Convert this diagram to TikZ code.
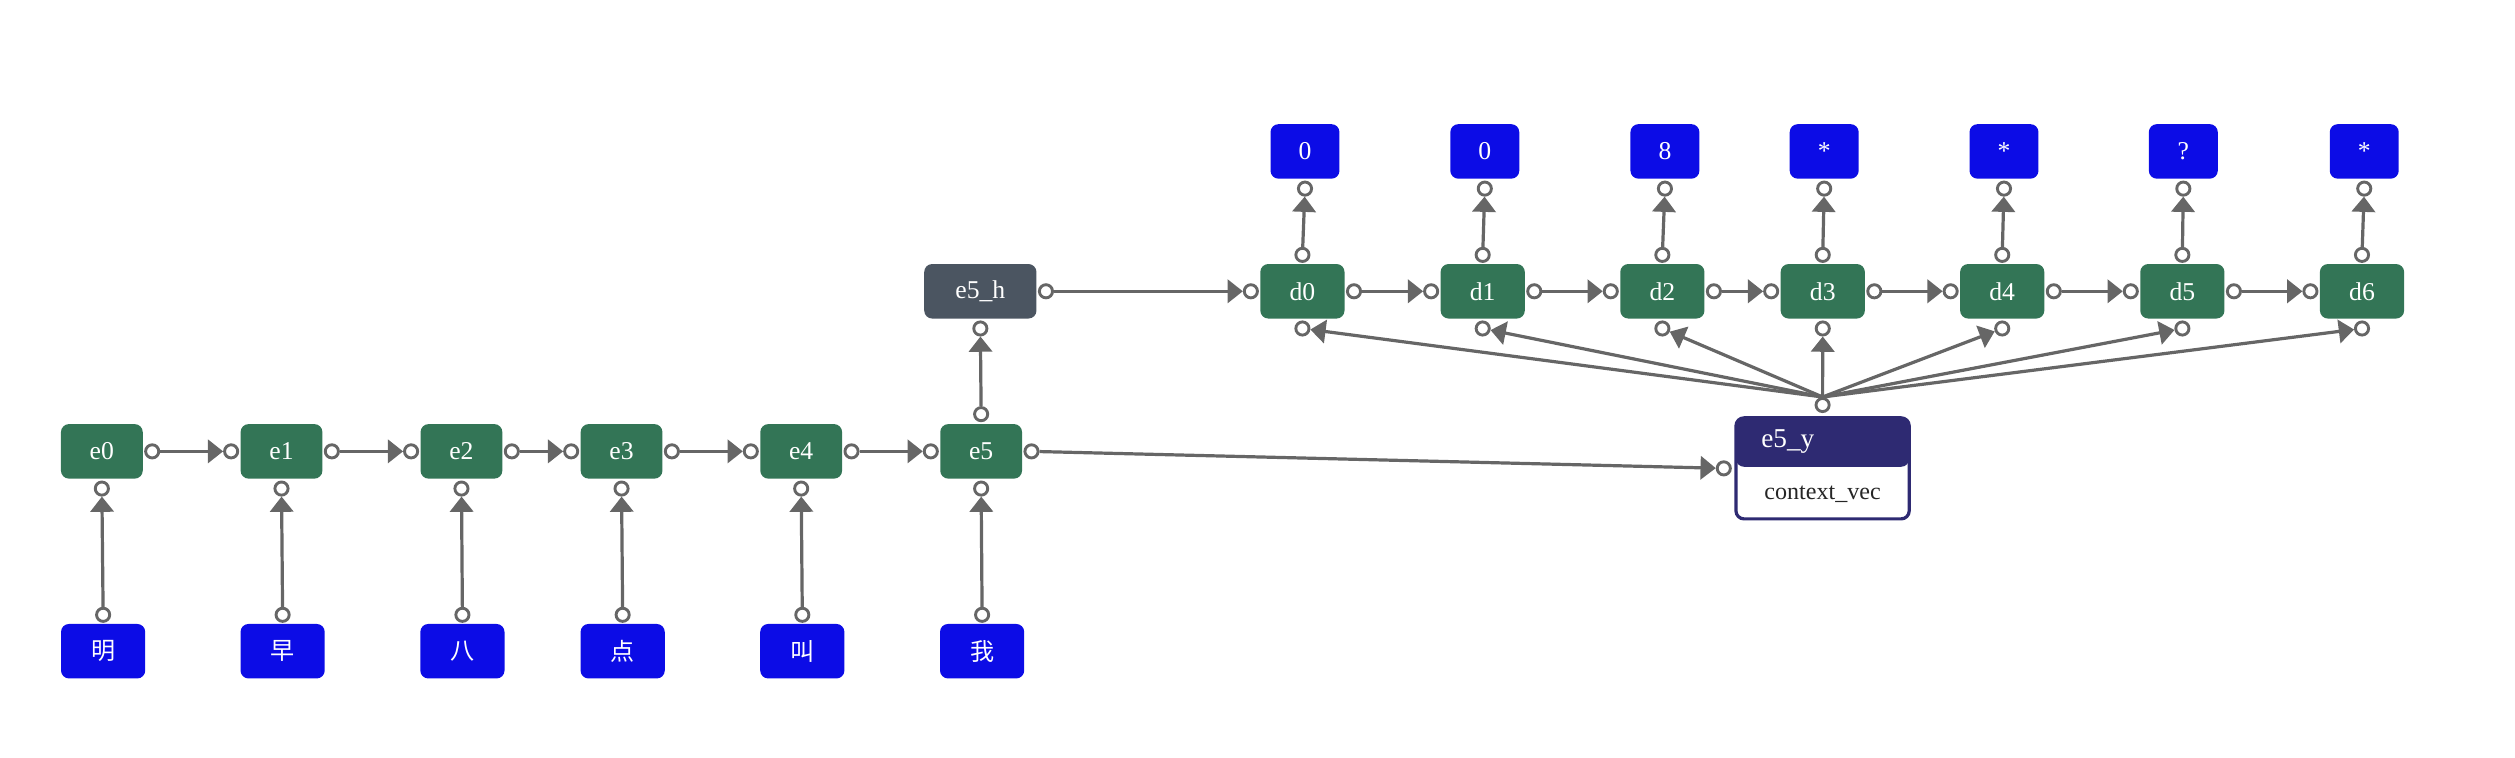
\documentclass[tikz,border=0pt]{standalone}
\usepackage{fontspec}
\setmainfont{Liberation Serif}
\newfontfamily\cjkfont{Noto Sans CJK SC}
\usetikzlibrary{arrows.meta}
\definecolor{encgreen}{HTML}{337556}
\definecolor{tokblue}{HTML}{0C0CE6}
\definecolor{slatebox}{HTML}{4B5561}
\definecolor{navybox}{HTML}{2E2A72}
\definecolor{conngray}{HTML}{666666}
\begin{document}
\begin{tikzpicture}[x=1pt,y=-1pt,
  basebox/.style={rounded corners=5pt, minimum height=34pt, inner sep=0pt, text=white, font=\fontsize{16}{19}\selectfont},
  encbox/.style={basebox, fill=encgreen, minimum width=51pt},
  decbox/.style={basebox, fill=encgreen, minimum width=52.5pt},
  tokbox/.style={basebox, fill=tokblue, minimum width=52.5pt, font=\cjkfont\fontsize{15}{18}\selectfont},
  outbox/.style={basebox, fill=tokblue, minimum width=43pt},
  hidbox/.style={basebox, fill=slatebox, minimum width=70pt},
  portc/.style={circle, draw=conngray, fill=white, line width=1.8pt, minimum size=8.2pt, inner sep=0pt},
  connx/.style={draw=conngray, line width=2pt, -{Triangle[length=9.5pt,width=14.5pt]}},
]
\useasboundingbox (0,0) rectangle (1568,472);

% encoder nodes
\foreach \x [count=\i from 0] in {63.5,175.5,287.7,387.5,499.5,611.7}{
  \node[encbox] (e\i) at (\x,281.4) {e\i};
}
% token nodes
\foreach \x/\t [count=\i from 0] in {64.3/明,176.2/早,288.3/八,388.2/点,500.2/叫,612.3/我}{
  \node[tokbox] (t\i) at (\x,406) {\t};
}
% hidden
\node[hidbox] (eh) at (611.2,181.6) {e5\_h};
% decoder nodes
\foreach \x [count=\i from 0] in {812,924.4,1036.4,1136.4,1248.3,1360.6,1472.6}{
  \node[decbox] (d\i) at (\x,181.6) {d\i};
}
% output nodes
\foreach \x/\t [count=\i from 0] in {813.6/0,925.7/0,1038/8,1137.3/*,1249.4/*,1361.2/?,1474/*}{
  \node[outbox] (o\i) at (\x,94.4) {\t};
}
% e5_y node
\node[draw=navybox, line width=2pt, rounded corners=5pt, minimum width=108pt, minimum height=63pt, fill=white, inner sep=0pt,
  path picture={\fill[navybox] (path picture bounding box.north west) rectangle ([yshift=-30.5pt]path picture bounding box.north east);}]
  (ey) at (1136.3,292) {};
\node[anchor=west, inner sep=0pt, text=white, font=\fontsize{17}{20}\selectfont] (eyh) at ([xshift=16.6pt,yshift=-15.5pt]ey.north west) {e5\_y};
\node[inner sep=0pt, text=black!85, font=\fontsize{15}{18}\selectfont] (eyb) at ([yshift=16.5pt]ey.south) {context\_vec};

% encoder chain
\foreach \i in {0,...,4}{
  \pgfmathtruncatemacro{\j}{\i+1}
  \node[portc] (er\i) at ([xshift=5.7pt]e\i.east) {};
  \node[portc] (el\j) at ([xshift=-5.7pt]e\j.west) {};
  \draw[connx] (er\i) -- (el\j);
}
% tokens to encoder
\foreach \i in {0,...,5}{
  \node[portc] (eb\i) at ([yshift=-6pt]e\i.south) {};
  \node[portc] (tt\i) at ([yshift=5.5pt]t\i.north) {};
  \draw[connx] (tt\i) -- (eb\i);
}
% e5 to e5_h
\node[portc] (et5) at ([yshift=6pt]e5.north) {};
\node[portc] (ehb) at ([yshift=-6pt]eh.south) {};
\draw[connx] (et5) -- (ehb);
% e5_h to d0
\node[portc] (ehr) at ([xshift=5.7pt]eh.east) {};
\node[portc] (dl0) at ([xshift=-5.7pt]d0.west) {};
\draw[connx] (ehr) -- (dl0);
% decoder chain
\foreach \i in {0,...,5}{
  \pgfmathtruncatemacro{\j}{\i+1}
  \node[portc] (dr\i) at ([xshift=5.7pt]d\i.east) {};
  \node[portc] (dl\j) at ([xshift=-5.7pt]d\j.west) {};
  \draw[connx] (dr\i) -- (dl\j);
}
% decoder to outputs
\foreach \i in {0,...,6}{
  \node[portc] (dt\i) at ([yshift=5.5pt]d\i.north) {};
  \node[portc] (ob\i) at ([yshift=-6pt]o\i.south) {};
  \draw[connx] (dt\i) -- (ob\i);
}
% e5 to e5_y
\node[portc] (er5) at ([xshift=5.7pt]e5.east) {};
\node[portc] (eyl) at ([xshift=-6.6pt]ey.west) {};
\draw[connx] (er5) -- (eyl);
% fan from e5_y
\node[portc] (eyt) at ([yshift=7pt]ey.north) {};
\foreach \i in {0,...,6}{
  \node[portc] (db\i) at ([yshift=-6pt]d\i.south) {};
  \draw[connx] (eyt.north) -- (db\i);
}
\end{tikzpicture}
\end{document}
